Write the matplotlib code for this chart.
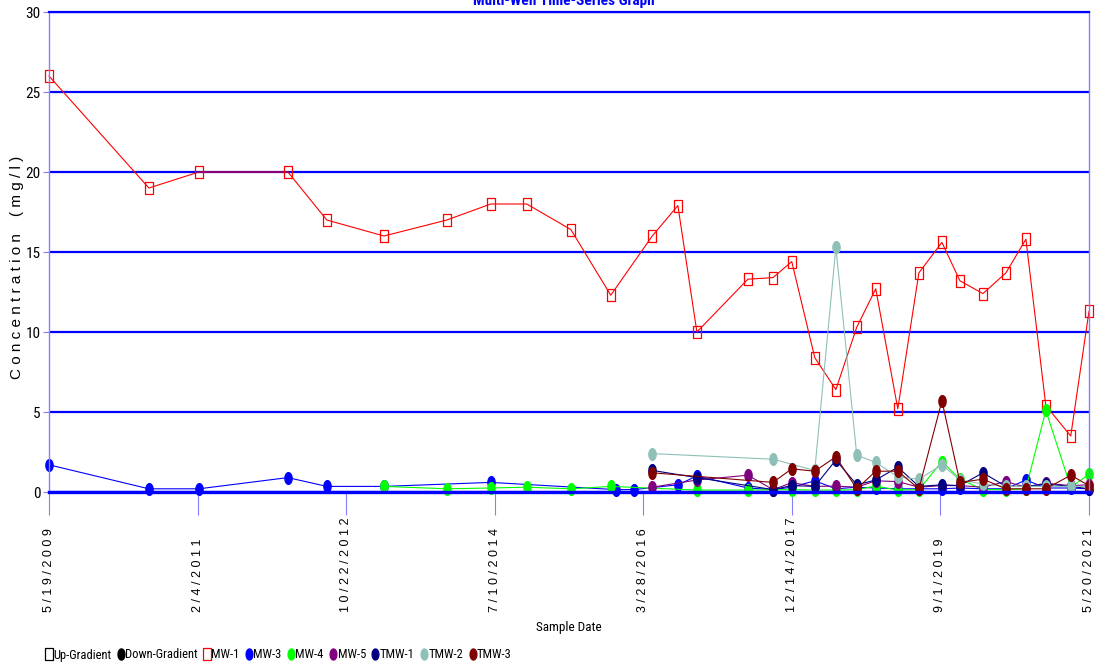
import numpy as np
import pandas as pd
import matplotlib
matplotlib.use("Agg")
import matplotlib.pyplot as plt
from matplotlib import font_manager
from matplotlib.path import Path
from matplotlib.lines import Line2D

# pick a condensed face if one is installed (reference uses an Arial Narrow look)
_installed = {(f.name, f.stretch) for f in font_manager.fontManager.ttflist}
_names = {n for n, _ in _installed}
NARROW_NAME = None
for cand in ["Liberation Sans Narrow", "Arial Narrow", "Roboto Condensed", "Open Sans Condensed",
             "Noto Sans Condensed"]:
    if cand in _names:
        NARROW_NAME = cand
        break
if NARROW_NAME is None:
    cond = [n for n, s in _installed if "condensed" in str(s) and n in ("DejaVu Sans", "Roboto", "Noto Sans", "Open Sans")]
    NARROW_NAME = cond[0] if cond else None
NARROW = dict(family=[NARROW_NAME, "DejaVu Sans"] if NARROW_NAME else ["Liberation Sans"],
              stretch="condensed")
NARROW_OK = NARROW_NAME is not None
REGULAR = ["Liberation Sans", "DejaVu Sans"]

# ---- data ----
mw1_dates = ["2009-05-19", "2010-07-14", "2011-02-10", "2012-02-20", "2012-08-02", "2013-03-31",
             "2013-12-21", "2014-06-24", "2014-11-23", "2015-05-28", "2015-11-12", "2016-05-05",
             "2016-08-21", "2016-11-09", "2017-06-12", "2017-09-26", "2017-12-14", "2018-03-21",
             "2018-06-18", "2018-09-14", "2018-12-03", "2019-03-06", "2019-06-03", "2019-09-08",
             "2019-11-23", "2020-02-28", "2020-06-04", "2020-08-27", "2020-11-19", "2021-03-04",
             "2021-05-20"]
mw1_vals = [26.0, 19.0, 20.0, 20.0, 17.0, 16.0, 17.0, 18.0, 18.0, 16.4, 12.3, 16.0, 17.9, 10.0,
            13.3, 13.4, 14.4, 8.4, 6.4, 10.3, 12.7, 5.2, 13.7, 15.6, 13.2, 12.4, 13.7, 15.8, 5.4,
            3.5, 11.3]

mw3_dates = ["2009-05-19", "2010-07-14", "2011-02-10", "2012-02-20", "2012-08-02", "2013-03-31",
             "2014-06-24", "2015-12-03", "2016-02-18", "2016-08-21", "2016-11-09", "2017-06-12",
             "2017-09-26", "2017-12-14", "2018-03-21", "2018-06-18", "2018-09-14", "2018-12-03",
             "2019-03-06", "2019-06-03", "2019-09-08", "2019-11-23", "2020-02-28", "2020-06-04",
             "2020-08-27", "2020-11-19", "2021-03-04", "2021-05-20"]
mw3_vals = [1.7, 0.2, 0.2, 0.9, 0.35, 0.35, 0.6, 0.15, 0.15, 0.45, 1.0, 0.25, 0.15, 0.3, 0.7,
            0.2, 0.3, 0.25, 0.2, 0.2, 0.2, 0.25, 0.2, 0.2, 0.75, 0.25, 0.25, 0.2]

mw4_dates = ["2013-03-31", "2013-12-21", "2014-06-24", "2014-11-23", "2015-05-28", "2015-11-12",
             "2016-11-09", "2017-06-12", "2017-12-14", "2018-03-21", "2018-06-18", "2018-09-14",
             "2018-12-03", "2019-03-06", "2019-06-03", "2019-09-08", "2019-11-23", "2020-02-28",
             "2020-06-04", "2020-08-27", "2020-11-19", "2021-03-04", "2021-05-20"]
mw4_vals = [0.35, 0.2, 0.25, 0.3, 0.2, 0.35, 0.12, 0.12, 0.15, 0.12, 0.12, 0.15, 0.37, 0.12,
            0.15, 1.9, 0.8, 0.15, 0.15, 0.2, 5.1, 0.3, 1.1]

mw5_dates = ["2016-05-05", "2016-11-09", "2017-06-12", "2017-09-26", "2017-12-14", "2018-03-21",
             "2018-06-18", "2018-09-14", "2018-12-03", "2019-03-06", "2019-06-03", "2019-09-08",
             "2019-11-23", "2020-02-28", "2020-06-04", "2020-08-27", "2020-11-19", "2021-03-04",
             "2021-05-20"]
mw5_vals = [0.3, 0.75, 1.05, 0.15, 0.58, 0.35, 0.37, 0.3, 0.7, 0.65, 0.3, 0.4, 0.4, 0.3, 0.65,
            0.3, 0.55, 0.4, 0.45]

tmw1_dates = ["2016-05-05", "2016-11-09", "2017-09-26", "2017-12-14", "2018-03-21", "2018-06-18",
              "2018-09-14", "2018-12-03", "2019-03-06", "2019-06-03", "2019-09-08", "2019-11-23",
              "2020-02-28", "2020-06-04", "2020-08-27", "2020-11-19", "2021-03-04", "2021-05-20"]
tmw1_vals = [1.35, 0.9, 0.15, 0.4, 0.35, 2.0, 0.45, 0.75, 1.55, 0.35, 0.45, 0.4, 1.2, 0.35,
             0.35, 0.5, 0.35, 0.2]

tmw2_dates = ["2016-05-05", "2017-09-26", "2018-03-21", "2018-06-18", "2018-09-14", "2018-12-03",
              "2019-03-06", "2019-06-03", "2019-09-08", "2019-11-23", "2020-02-28", "2020-06-04",
              "2020-08-27", "2020-11-19", "2021-03-04", "2021-05-20"]
tmw2_vals = [2.4, 2.05, 1.35, 15.3, 2.3, 1.85, 0.95, 0.8, 1.7, 0.75, 0.5, 0.35, 0.35, 0.35,
             0.35, 0.35]

tmw3_dates = ["2016-05-05", "2017-09-26", "2017-12-14", "2018-03-21", "2018-06-18", "2018-09-14",
              "2018-12-03", "2019-03-06", "2019-06-03", "2019-09-08", "2019-11-23", "2020-02-28",
              "2020-06-04", "2020-08-27", "2020-11-19", "2021-03-04", "2021-05-20"]
tmw3_vals = [1.2, 0.6, 1.45, 1.3, 2.2, 0.2, 1.3, 1.3, 0.2, 5.7, 0.6, 0.8, 0.2, 0.2, 0.2, 1.05, 0.4]

tick_dates = ["2009-05-19", "2011-02-04", "2012-10-22", "2014-07-10", "2016-03-28",
              "2017-12-14", "2019-09-01", "2021-05-20"]
tick_labels = ["5/19/2009", "2/4/2011", "10/22/2012", "7/10/2014", "3/28/2016",
               "12/14/2017", "9/1/2019", "5/20/2021"]
y_ticks = [0, 5, 10, 15, 20, 25, 30]

# ---- marker shapes ----
t = np.linspace(0, 2 * np.pi, 40)
ELLIPSE = Path(np.column_stack([0.62 * np.cos(t), np.sin(t)]), closed=True)
RECT = Path([(-0.75, -1), (0.75, -1), (0.75, 1), (-0.75, 1), (-0.75, -1)], closed=True)

series = [
    ("MW-1", mw1_dates, mw1_vals, "#FF0000", RECT, False),
    ("MW-3", mw3_dates, mw3_vals, "#0000FF", ELLIPSE, True),
    ("MW-4", mw4_dates, mw4_vals, "#00FF00", ELLIPSE, True),
    ("MW-5", mw5_dates, mw5_vals, "#800080", ELLIPSE, True),
    ("TMW-1", tmw1_dates, tmw1_vals, "#000080", ELLIPSE, True),
    ("TMW-2", tmw2_dates, tmw2_vals, "#8FC0B8", ELLIPSE, True),
    ("TMW-3", tmw3_dates, tmw3_vals, "#800000", ELLIPSE, True),
]

fig = plt.figure(figsize=(11.12, 6.72), dpi=100)
ax = fig.add_axes([49 / 1112, 1 - 492 / 672, 1040 / 1112, 480 / 672])

for name, dates, vals, color, mk, filled in series:
    ax.plot(pd.to_datetime(dates), vals, color=color, lw=0.8, marker=mk, ms=8.5,
            mfc=color if filled else "none", mec=color, mew=0.9, label=name, clip_on=False)

ax.set_xlim(pd.Timestamp(tick_dates[0]), pd.Timestamp(tick_dates[-1]))
ax.set_ylim(0, 30)

# horizontal grid lines
ax.set_yticks(y_ticks)
ax.yaxis.grid(True, color="#0000FF", lw=1.6)
ax.set_axisbelow(True)
for side in ["top", "bottom"]:
    ax.spines[side].set_color("#0000FF")
ax.spines["top"].set_linewidth(1.6)
ax.spines["bottom"].set_linewidth(2.4)
for side in ["left", "right"]:
    ax.spines[side].set_color("#8080FF")
    ax.spines[side].set_linewidth(1.0)

small = 11 if NARROW_OK else 9
ax.set_yticklabels([str(v) for v in y_ticks], fontsize=small, **NARROW)
ax.tick_params(axis="y", length=4, color="#8080FF", pad=2)

ax.set_xticks(pd.to_datetime(tick_dates))
ax.set_xticklabels([" ".join(s) for s in tick_labels], rotation=90, va="bottom", ha="center",
                   family=REGULAR, fontsize=9)
ax.tick_params(axis="x", length=16.5, color="#8080FF", width=0.8, pad=70)

ax.set_xlabel("Sample Date", fontsize=9.5 if NARROW_OK else 8.5, **NARROW)
ax.xaxis.set_label_coords(0.5, -0.268)
ax.set_ylabel(" ".join("Concentration (mg/l)").replace("  ", "   "), family=REGULAR, fontsize=11)
ax.yaxis.set_label_coords(-0.024, 0.467)

fig.text(564 / 1112, 1 - 5 / 672, "Multi-Well Time-Series Graph", ha="center", va="baseline",
         color="#0000FF", fontweight="bold", fontsize=11 if NARROW_OK else 10, **NARROW)

# legend
handles = [
    Line2D([], [], ls="none", marker=RECT, ms=8, mfc="none", mec="black", mew=0.9),
    Line2D([], [], ls="none", marker=ELLIPSE, ms=8, mfc="black", mec="black"),
]
labels = ["Up-Gradient", "Down-Gradient"]
for name, dates, vals, color, mk, filled in series:
    handles.append(Line2D([], [], ls="none", marker=mk, ms=8,
                          mfc=color if filled else "none", mec=color, mew=0.9))
    labels.append(name)
leg_prop = dict(NARROW)
leg_prop["size"] = 9 if NARROW_OK else 7.5
fig.legend(handles, labels, loc="center left", bbox_to_anchor=(45 / 1112, 1 - 655 / 672),
           ncol=9, frameon=False, handlelength=0.6, handletextpad=0.05, columnspacing=0.45,
           borderpad=0, borderaxespad=0, prop=leg_prop)

fig.savefig("out.png", dpi=100)
